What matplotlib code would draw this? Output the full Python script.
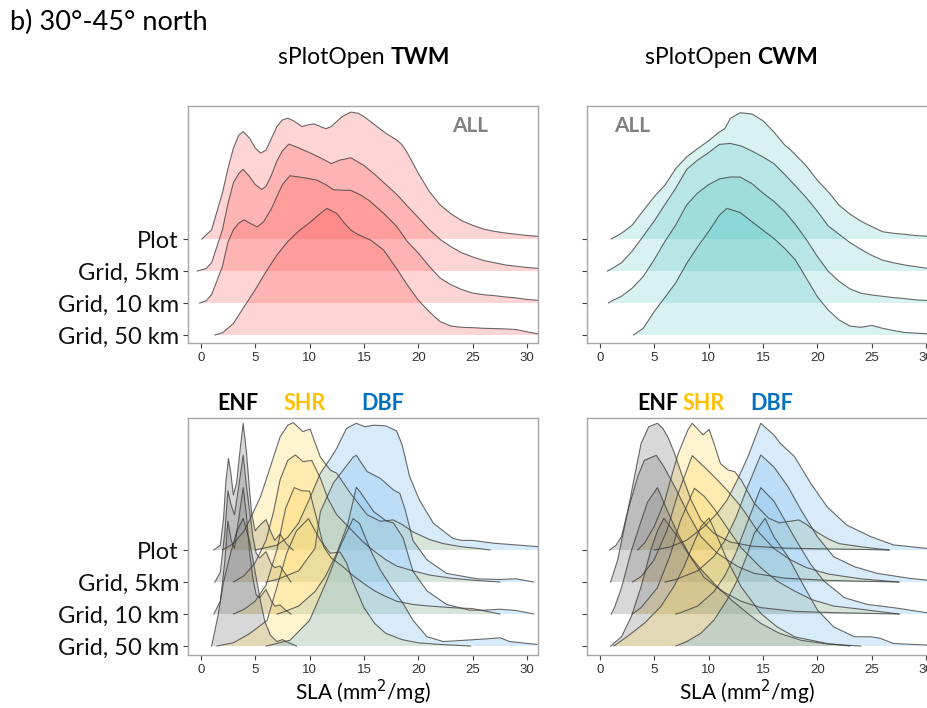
import numpy as np
import matplotlib

matplotlib.use("Agg")
import matplotlib.pyplot as plt

# ---- data: ridge heights (in row units), as (SLA, height) knots ----
ROWS = ["Grid, 50 km", "Grid, 10 km", "Grid, 5km", "Plot"]   # bottom -> top
XTICKS = [0, 5, 10, 15, 20, 25, 30]

# top row: all biomes
TWM_PLOT = [(0.1, 0), (1, 0.29), (2, 1.45), (2.5, 2.2), (3, 2.84), (3.5, 3.25), (3.9, 3.36), (4.5, 3.15),
            (5, 2.85), (5.5, 2.69), (6, 2.78), (6.5, 3.15), (7, 3.52), (7.5, 3.72), (8, 3.78), (8.5, 3.7),
            (9.3, 3.52), (10, 3.58), (10.4, 3.6), (11, 3.52), (11.5, 3.45), (12, 3.52), (13, 3.83),
            (13.8, 3.97), (14.5, 3.93), (15, 3.83), (16, 3.57), (17, 3.31), (18, 3.1), (18.5, 2.95),
            (19, 2.69), (20, 2.06), (21, 1.49), (22, 1.07), (23, 0.79), (24, 0.57), (25, 0.43), (26, 0.31),
            (27, 0.24), (28, 0.19), (29, 0.15), (30, 0.11), (31.2, 0.08)]
TWM_5KM = [(-0.3, 0), (0.5, 0.08), (1, 0.26), (2, 1.3), (2.5, 2.1), (3, 2.76), (3.5, 3.05), (3.9, 3.18),
           (4.5, 2.95), (5, 2.71), (5.6, 2.55), (6, 2.65), (6.5, 3.0), (7, 3.44), (7.5, 3.75), (8.1, 3.97),
           (9, 3.85), (10, 3.7), (11, 3.54), (12, 3.36), (12.8, 3.47), (13.8, 3.54), (15, 3.3), (16, 3.02),
           (17, 2.71), (18, 2.4), (19, 2.03), (20, 1.67), (21, 1.3), (22, 0.99), (23, 0.76), (24, 0.57),
           (25, 0.44), (26, 0.33), (27, 0.26), (28, 0.19), (29, 0.15), (30, 0.11), (31.2, 0.08)]
TWM_10KM = [(-0.1, 0), (0.5, 0.07), (1, 0.26), (2, 1.15), (2.5, 1.9), (3, 2.29), (3.5, 2.5), (4, 2.6),
            (4.5, 2.5), (5.2, 2.38), (5.8, 2.55), (6.5, 2.95), (7, 3.33), (7.5, 3.7), (8.2, 3.98), (9, 3.94),
            (9.8, 3.9), (10.7, 3.84), (11.5, 3.7), (12.2, 3.54), (13, 3.53), (13.8, 3.52), (14.7, 3.38),
            (15.5, 3.2), (16.8, 2.81), (18, 2.4), (19, 1.92), (20, 1.56), (21, 1.15), (22, 0.78), (23, 0.57),
            (24, 0.42), (25, 0.31), (26, 0.26), (27, 0.23), (28, 0.19), (29, 0.16), (30, 0.11), (31.2, 0.08)]
TWM_50KM = [(1.3, 0), (2, 0.07), (3, 0.36), (4, 0.89), (5, 1.41), (6, 1.98), (7, 2.5), (8, 2.92), (9, 3.25),
            (10, 3.51), (11, 3.8), (11.6, 3.96), (12.5, 3.8), (13.2, 3.5), (13.8, 3.28), (14.4, 3.15),
            (15.6, 2.97), (16.8, 2.66), (18, 2.08), (19, 1.56), (20, 1.09), (21, 0.73), (22, 0.42), (23, 0.28),
            (24, 0.24), (25, 0.23), (26, 0.21), (27, 0.2), (28, 0.19), (29, 0.17), (30, 0.1), (31.2, 0.02)]

CWM_PLOT = [(1.05, 0), (2, 0.18), (3, 0.44), (4, 0.89), (5, 1.32), (6, 1.69), (7, 2.21), (8, 2.57), (9, 2.83),
            (10, 3.07), (11, 3.35), (11.5, 3.45), (12, 3.77), (12.9, 3.95), (14, 3.91), (15, 3.7), (16, 3.35),
            (17, 2.94), (17.5, 2.8), (18, 2.63), (19, 2.28), (20, 1.84), (21, 1.48), (22, 1.06), (23, 0.78),
            (24, 0.56), (25, 0.39), (26, 0.23), (27, 0.18), (28, 0.15), (29, 0.11), (30, 0.09), (31.2, 0.07)]
CWM_5KM = [(0.7, 0), (1, 0.05), (2, 0.26), (3, 0.63), (4, 1.09), (5, 1.56), (6, 2.08), (7, 2.6), (8, 3.18),
           (9, 3.47), (10, 3.7), (11, 3.96), (12, 3.99), (13, 3.91), (14, 3.75), (15, 3.57), (16, 3.36),
           (17, 3.02), (18, 2.66), (19, 2.29), (20, 1.87), (21, 1.41), (22, 1.15), (23, 0.89), (24, 0.68),
           (25, 0.49), (26, 0.34), (27, 0.26), (28, 0.19), (29, 0.14), (30, 0.09), (31.2, 0.07)]
CWM_10KM = [(0.8, 0), (1, 0.05), (2, 0.21), (3, 0.47), (4, 0.83), (5, 1.35), (6, 1.93), (7, 2.45), (8, 3.07),
            (9, 3.44), (10, 3.7), (11, 3.88), (12, 3.94), (12.9, 3.94), (14, 3.73), (15, 3.44), (16, 3.18),
            (17, 2.86), (18, 2.45), (19, 1.98), (20, 1.46), (21, 0.99), (22, 0.68), (23, 0.44), (24, 0.31),
            (25, 0.25), (26, 0.21), (27, 0.17), (28, 0.14), (29, 0.1), (30, 0.08), (31.2, 0.06)]
CWM_50KM = [(3.1, 0), (4, 0.21), (5, 0.73), (6, 1.18), (7, 1.64), (8, 2.24), (9, 2.76), (10, 3.23), (11, 3.75),
            (11.7, 3.96), (12.9, 3.83), (14, 3.54), (15, 3.28), (16, 3.02), (17, 2.71), (18, 2.34), (19, 1.77),
            (20, 1.2), (21, 0.78), (22, 0.47), (23, 0.28), (24, 0.24), (25, 0.3), (26, 0.21), (27, 0.14),
            (28, 0.08), (29, 0.06), (30, 0.04), (31.2, 0.02)]

# bottom row: by biome (ENF / SHR / DBF)
TWM_ENF_PLOT = [(1.2, 0), (1.8, 0.15), (2.1, 1.0), (2.3, 2.1), (2.55, 2.86), (2.75, 2.45), (3.0, 1.72),
                (3.3, 2.1), (3.6, 3.07), (3.9, 3.96), (4.2, 3.07), (4.5, 1.82), (4.7, 1.1), (5.0, 0.6),
                (5.5, 0.8), (6.0, 0.95), (6.4, 0.6), (6.8, 0.3), (7.3, 0.5), (7.9, 0.18), (8.5, 0)]
TWM_ENF_5KM = [(1.3, 0), (1.8, 0.3), (2.2, 1.5), (2.5, 2.85), (2.8, 2.4), (3.1, 2.1), (3.5, 3.0), (3.9, 3.97),
               (4.2, 3.0), (4.5, 2.2), (4.8, 1.4), (5.1, 0.9), (5.4, 0.75), (6.0, 0.95), (6.5, 0.55),
               (6.8, 0.45), (7.3, 0.5), (7.8, 0.25), (8.3, 0)]
TWM_ENF_10KM = [(1.2, 0), (1.8, 0.4), (2.2, 1.6), (2.5, 2.9), (2.8, 2.3), (3.1, 2.05), (3.5, 3.0), (3.9, 3.95),
                (4.2, 3.1), (4.5, 1.9), (4.8, 1.1), (5.1, 0.6), (5.4, 0.5), (6.0, 0.77), (6.5, 0.4),
                (6.8, 0.25), (7.3, 0.28), (7.8, 0.12), (8.3, 0)]
TWM_ENF_50KM = [(1.0, 0), (1.6, 0.97), (2.1, 2.0), (2.7, 2.84), (3.3, 3.57), (3.9, 3.99), (4.5, 3.26),
                (5.0, 2.32), (5.5, 1.39), (5.9, 0.76), (6.4, 0.34), (7.0, 0.14), (7.5, 0.2), (8.0, 0.12),
                (8.8, 0)]
TWM_SHR_PLOT = [(2, 0), (3, 0.2), (4, 0.6), (4.5, 0.94), (5.5, 1.67), (6.4, 2.6), (7.3, 3.54), (8, 3.9),
                (8.5, 3.98), (9.4, 3.7), (10.05, 3.78), (11, 2.9), (11.9, 2.5), (12.5, 2.4), (13.7, 1.8),
                (15.3, 1.1), (16.5, 0.9), (17.7, 0.94), (18.6, 0.78), (19.5, 0.57), (21, 0.33), (22.3, 0.2),
                (24, 0.1), (25.5, 0.05), (26.6, 0)]
TWM_SHR_5KM = [(3, 0), (4, 0.2), (5, 0.6), (6, 1.3), (6.7, 2.2), (7.3, 3.2), (8, 3.8), (8.7, 3.97), (9.4, 3.76),
               (10.2, 3.8), (11, 3.24), (11.7, 2.6), (12.5, 2.1), (13.7, 1.68), (14.9, 1.26), (16, 0.95),
               (17, 0.7), (18, 0.5), (19.5, 0.35), (21, 0.22), (23, 0.12), (25, 0.06), (27.5, 0)]
TWM_SHR_10KM = [(3, 0), (4, 0.15), (5, 0.4), (6, 0.9), (7, 2.0), (7.8, 3.3), (8.6, 3.95), (9.3, 3.85),
                (10, 3.84), (10.6, 3.06), (11.3, 2.1), (12, 1.75), (13, 1.5), (14, 1.2), (15, 0.95), (16, 0.72),
                (17, 0.55), (18, 0.4), (19.5, 0.3), (21, 0.25), (23, 0.2), (25, 0.17), (27.5, 0)]
TWM_SHR_50KM = [(1.5, 0), (3, 0.1), (4.5, 0.39), (6.1, 0.8), (7, 1.84), (7.9, 2.9), (8.8, 3.6), (9.9, 3.98),
                (11, 3.3), (11.9, 2.9), (12.8, 2.94), (13.4, 2.6), (14, 2.0), (15, 1.2), (16, 0.7), (17, 0.4),
                (18.5, 0.2), (20, 0.1), (22, 0.05), (24.8, 0)]
TWM_DBF_PLOT = [(5, 0), (7, 0.15), (8, 0.4), (9, 0.85), (10, 1.6), (11, 2.4), (12, 2.9), (12.5, 3.18),
                (13.4, 3.8), (14.3, 3.96), (15.1, 3.85), (15.9, 3.9), (17, 3.88), (18, 3.72), (18.5, 3.3),
                (19.2, 2.3), (20.1, 1.56), (21.4, 0.83), (23.2, 0.36), (24, 0.3), (25, 0.3), (27, 0.21),
                (29, 0.16), (31.2, 0.1)]
TWM_DBF_5KM = [(6, 0), (7, 0.08), (9, 0.35), (10.5, 1.05), (11, 2.2), (12.2, 3.1), (14, 3.9), (14.3, 3.96),
               (15.3, 3.45), (16.5, 3.24), (17.7, 2.88), (18.3, 2.77), (18.8, 2.25), (19.5, 1.3), (20.8, 0.69),
               (22.6, 0.27), (25.4, 0.1), (27.5, 0.08), (29, 0.1), (30.6, 0)]
TWM_DBF_10KM = [(7, 0), (7.5, 0.05), (9, 0.25), (10.5, 0.7), (11.5, 1.2), (12.5, 1.9), (13.5, 2.8),
                (14.3, 3.96), (14.6, 3.84), (15.9, 3.2), (17.1, 2.9), (17.7, 2.85), (18.6, 2.38), (19.5, 1.34),
                (20.8, 0.72), (22.6, 0.3), (24.7, 0.12), (26, 0.12), (27.5, 0.15), (29, 0.11), (30.6, 0)]
TWM_DBF_50KM = [(6, 0), (8.2, 0.18), (10, 0.8), (11.6, 2.05), (12.8, 3.1), (14, 3.98), (14.6, 3.83),
                (15.6, 3.0), (16.5, 2.38), (17.7, 1.75), (18.6, 1.33), (19.5, 0.81), (20.8, 0.29), (22.3, 0.14),
                (24.7, 0.19), (26.9, 0.24), (27.5, 0.26), (28.4, 0.14), (30.9, 0.05)]

CWM_ENF_PLOT = [(0.9, 0), (1.5, 0.15), (2, 0.42), (2.6, 1.25), (3.2, 2.3), (3.8, 3.33), (4.5, 3.85),
                (5.3, 3.96), (5.8, 3.8), (6.25, 3.54), (6.9, 3.0), (7.6, 2.3), (8.4, 1.56), (9.3, 0.94),
                (10.5, 0.52), (12, 0.25), (14, 0.12), (17, 0.06), (20, 0.04), (24, 0.02), (26.6, 0)]
CWM_ENF_5KM = [(1.0, 0), (1.65, 0.69), (2.6, 2.25), (3.5, 3.3), (4.1, 3.8), (5.2, 3.96), (5.9, 3.6),
               (6.9, 2.98), (8.1, 2.15), (9.3, 1.42), (10.8, 0.9), (12.7, 0.48), (14.2, 0.27), (17, 0.12),
               (21, 0.05), (27.5, 0)]
CWM_ENF_10KM = [(1.05, 0), (1.35, 0.2), (2.0, 0.82), (2.9, 1.97), (3.8, 2.9), (4.4, 3.5), (5.3, 3.95),
                (6.25, 3.2), (7.2, 2.5), (8.4, 1.76), (9.6, 1.14), (11.2, 0.72), (13, 0.4), (14.8, 0.2),
                (18, 0.08), (22, 0.04), (27.5, 0)]
CWM_ENF_50KM = [(1.0, 0), (2.0, 0.29), (2.9, 0.92), (3.8, 1.85), (4.7, 3.0), (5.3, 3.6), (5.9, 3.99),
                (7.2, 3.4), (8.1, 2.9), (9.3, 2.4), (10.5, 1.96), (12.1, 1.44), (13.6, 1.02), (14.8, 0.71),
                (16.5, 0.4), (18.5, 0.18), (21, 0.06), (24, 0)]
CWM_SHR_PLOT = [(3.5, 0), (4.1, 0.21), (5, 0.73), (6, 1.56), (6.6, 2.3), (7.2, 3.0), (8.1, 3.75), (8.5, 3.96),
                (9.5, 3.6), (10.05, 3.77), (10.5, 3.33), (11.1, 2.7), (11.8, 2.5), (12.4, 2.45), (13, 2.19),
                (14.2, 1.46), (15.5, 1.0), (16.5, 0.85), (17.5, 0.9), (18.3, 0.94), (19, 0.8), (20, 0.55),
                (21, 0.35), (22, 0.2), (24, 0.1), (26.6, 0)]
CWM_SHR_5KM = [(3, 0), (3.8, 0.17), (5, 0.69), (6.2, 1.63), (7.1, 2.67), (8.5, 3.95), (9.9, 3.5),
               (10.8, 3.19), (11.7, 2.87), (13, 2.35), (14.5, 1.6), (16, 1.05), (17.5, 0.7), (19, 0.45),
               (21, 0.25), (24, 0.1), (27.5, 0)]
CWM_SHR_10KM = [(3, 0), (3.8, 0.2), (5.3, 0.82), (6.5, 1.86), (7.4, 2.9), (8.7, 3.93), (9.6, 3.68),
                (10.5, 3.3), (11.7, 2.7), (13, 2.07), (14.8, 1.45), (16.3, 1.03), (17.9, 0.72), (19.5, 0.45),
                (21.5, 0.25), (24, 0.15), (27.5, 0)]
CWM_SHR_50KM = [(1.3, 0), (2.5, 0.29), (4.1, 0.71), (5.6, 1.23), (6.8, 1.85), (7.75, 2.48), (8.5, 3.1),
                (9.3, 3.73), (10.05, 4.0), (10.8, 3.42), (11.7, 2.7), (13, 1.85), (14.8, 1.02), (16.3, 0.6),
                (17.9, 0.29), (20.9, 0.08), (23, 0)]
CWM_DBF_PLOT = [(5, 0), (6.5, 0.1), (8, 0.31), (9.6, 0.73), (10.8, 1.15), (11.7, 1.56), (12.65, 2.19),
                (13.6, 2.9), (14.8, 3.96), (16, 3.6), (16.6, 3.33), (17.9, 2.92), (19.4, 2.08), (20.9, 1.35),
                (22.7, 0.78), (24.9, 0.42), (27, 0.16), (30.1, 0.05), (31.2, 0.04)]
CWM_DBF_5KM = [(6, 0), (7, 0.08), (9, 0.35), (10.5, 0.8), (11.5, 1.3), (12.5, 2.0), (13.5, 2.9), (14.8, 3.97),
               (16, 3.6), (17.3, 2.98), (18.5, 2.25), (20, 1.42), (21.5, 0.79), (23.4, 0.48), (25.5, 0.27),
               (28.6, 0.11), (30.1, 0.06), (31.2, 0.05)]
CWM_DBF_10KM = [(7, 0), (7.5, 0.05), (9, 0.25), (10.5, 0.7), (11.5, 1.2), (12.5, 1.9), (13.5, 2.8),
                (14.8, 3.95), (16, 3.53), (16.9, 3.0), (17.9, 2.39), (19.4, 1.55), (20.6, 1.03), (22.5, 0.51),
                (24.6, 0.3), (27, 0.2), (30.1, 0.04), (31.2, 0.03)]
CWM_DBF_50KM = [(7, 0), (8, 0.14), (9.3, 0.4), (10.5, 0.81), (11.7, 1.44), (12.65, 2.06), (13.6, 2.9),
                (14.2, 3.52), (15.2, 3.99), (16, 3.42), (17.3, 2.79), (18.8, 1.85), (20, 1.13), (21.5, 0.6),
                (23.4, 0.29), (24.9, 0.29), (25.8, 0.24), (27, 0.08), (30.1, 0.03), (31.2, 0.02)]

# ---- styling ----
W, H = 928, 708
RED, TEAL = "#ff5a5a", "#3cbdbd"
GROUP_COLORS = {"ENF": "#7f7f7f", "SHR": "#ffd966", "DBF": "#7fbfef"}
LABEL_COLORS = {"ENF": "#000000", "SHR": "#ffc000", "DBF": "#0070c0"}
LINE = "#3a3a3a"
TXT = "Lato"


def px_axes(fig, left, top, right, bottom):
    return fig.add_axes([left / W, 1 - bottom / H, (right - left) / W, (bottom - top) / H])


def ridge(ax, knots, base, color, alpha):
    x, h = np.array(knots, dtype=float).T
    ax.fill_between(x, base, base + h, facecolor=color, alpha=alpha, lw=0)
    ax.plot(x, base + h, color=LINE, lw=0.8, alpha=0.75)


def style(ax, ylim, labels):
    ax.set_xlim(-1.17, 31.0)
    ax.set_ylim(*ylim)
    ax.set_xticks(XTICKS)
    ax.set_xticklabels([str(t) for t in XTICKS], fontsize=9.5, family="Liberation Sans", color="#333333")
    ax.set_yticks(range(len(ROWS)))
    if labels:
        ax.set_yticklabels(ROWS, fontsize=17, family=TXT, color="#111111")
    else:
        ax.set_yticklabels([])
    ax.tick_params(length=3.5, width=0.8, color="#444444", pad=3)
    for s in ax.spines.values():
        s.set_color("#a6a6a6")
        s.set_linewidth(1.0)


fig = plt.figure(figsize=(W / 100, H / 100), dpi=100)

top_sets = [(TWM_50KM, TWM_10KM, TWM_5KM, TWM_PLOT, RED, 0.26, 188),
            (CWM_50KM, CWM_10KM, CWM_5KM, CWM_PLOT, TEAL, 0.2, 587)]
for i, (c50, c10, c5, cp, col, a, left) in enumerate(top_sets):
    ax = px_axes(fig, left, 106, left + 350, 343)
    for base, knots in [(3, cp), (2, c5), (1, c10), (0, c50)]:
        ridge(ax, knots, base, col, a)
    style(ax, (-0.25, 7.16), labels=(i == 0))

bottom_sets = [
    {"ENF": [TWM_ENF_50KM, TWM_ENF_10KM, TWM_ENF_5KM, TWM_ENF_PLOT],
     "SHR": [TWM_SHR_50KM, TWM_SHR_10KM, TWM_SHR_5KM, TWM_SHR_PLOT],
     "DBF": [TWM_DBF_50KM, TWM_DBF_10KM, TWM_DBF_5KM, TWM_DBF_PLOT]},
    {"ENF": [CWM_ENF_50KM, CWM_ENF_10KM, CWM_ENF_5KM, CWM_ENF_PLOT],
     "SHR": [CWM_SHR_50KM, CWM_SHR_10KM, CWM_SHR_5KM, CWM_SHR_PLOT],
     "DBF": [CWM_DBF_50KM, CWM_DBF_10KM, CWM_DBF_5KM, CWM_DBF_PLOT]},
]
for i, (groups, left) in enumerate(zip(bottom_sets, [188, 587])):
    ax = px_axes(fig, left, 418, left + 350, 655)
    for base in [3, 2, 1, 0]:
        for g in ["ENF", "SHR", "DBF"]:
            ridge(ax, groups[g][base], base, GROUP_COLORS[g], 0.3)
    style(ax, (-0.28, 7.125), labels=(i == 0))


# ---- texts ----
def ftext(x, y, s, **kw):
    return fig.text(x / W, 1 - y / H, s, family=TXT, **kw)


ftext(10, 22, "b) 30°-45° north", fontsize=19.5, va="center", ha="left")
for x0, word in [(278, "TWM"), (645, "CWM")]:
    t = ftext(x0, 57, "sPlotOpen ", fontsize=16.5, va="center", ha="left")
    fig.text(0, 0, "", transform=fig.transFigure)
    plt.annotate(word, xy=(1, 0.5), xycoords=t, va="center", ha="left", fontsize=16.5,
                 fontweight="bold", family=TXT)
ftext(470, 126, "ALL", fontsize=15, fontweight="bold", color="#808080", ha="center", va="center")
ftext(632, 126, "ALL", fontsize=15, fontweight="bold", color="#808080", ha="center", va="center")
for xs in [(238, 305, 383), (658, 704, 772)]:
    for x, g in zip(xs, ["ENF", "SHR", "DBF"]):
        ftext(x, 404, g, fontsize=15.5, fontweight="bold", color=LABEL_COLORS[g], ha="center", va="center")
for x in [363, 747]:
    ftext(x, 692, "SLA (mm$^2$/mg)", fontsize=15, ha="center", va="center")

fig.savefig("out.png", dpi=100)
